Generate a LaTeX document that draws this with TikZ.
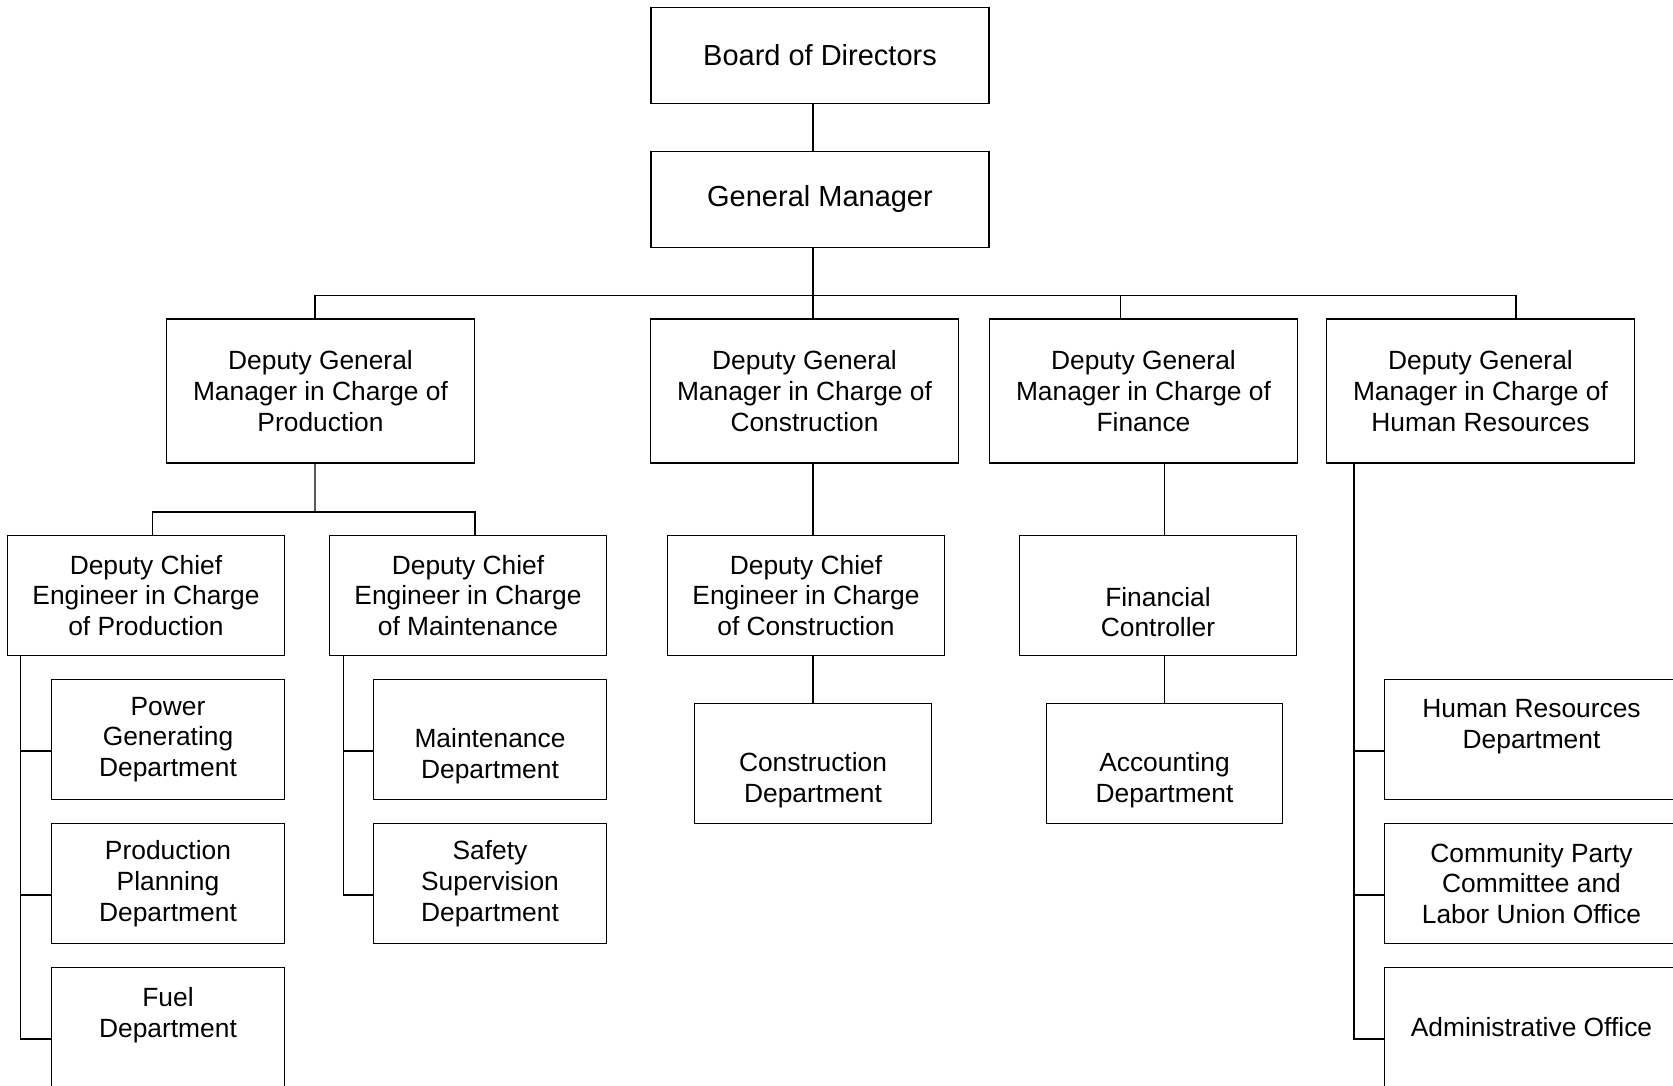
\documentclass[tikz,border=0pt]{standalone}
\usepackage{fontspec}
\setmainfont{Liberation Sans}
\usetikzlibrary{positioning}

\begin{document}
\begin{tikzpicture}[line width=0.8pt,
  box/.style={draw,align=center,inner sep=0pt,font=\fontsize{15}{17.5}\selectfont},
  top/.style={box,minimum width=6.76cm,minimum height=1.92cm,font=\fontsize{16.5}{19}\selectfont},
  dgm/.style={box,minimum width=6.17cm,minimum height=2.88cm},
  sub/.style={box,minimum width=5.55cm,minimum height=2.39cm},
  dept/.style={box,minimum width=4.67cm,minimum height=2.39cm}]
\useasboundingbox (0,0) rectangle (33.46,-21.72);
\node[top] (bod) at (16.40,-1.11) {Board of Directors};
\node[top] (gm) at (16.40,-3.99) {General Manager};
\coordinate (bus) at (16.26,-5.91);
\node[dgm] (dgp) at (6.41,-7.82) {Deputy General\\Manager in Charge of\\Production};
\node[dgm] (dgc) at (16.09,-7.82) {Deputy General\\Manager in Charge of\\Construction};
\node[dgm] (dgf) at (22.87,-7.82) {Deputy General\\Manager in Charge of\\Finance};
\node[dgm] (dgh) at (29.61,-7.82) {Deputy General\\Manager in Charge of\\Human Resources};
\draw (bod.south -| bus) -- (gm.north -| bus);
\draw (gm.south -| bus) -- (dgc.north -| bus);
\draw ([xshift=-0.11cm]dgp.north) |- (bus) -| ([xshift=0.71cm]dgh.north);
\draw ([xshift=-0.46cm]dgf.north) |- (bus);
% production
\coordinate (pbus) at (6.30,-10.24);
\node[sub] (dcp) at (2.92,-11.91) {Deputy Chief\\Engineer in Charge\\of Production};
\node[sub] (dcm) at (9.36,-11.91) {Deputy Chief\\Engineer in Charge\\of Maintenance};
\draw ([xshift=-0.11cm]dgp.south) -- (pbus);
\draw ([xshift=0.13cm]dcp.north) |- (pbus) -| ([xshift=0.14cm]dcm.north);
\node[dept] (pgd) at (3.36,-14.79) {Power\\Generating\\Department};
\node[dept] (ppd) at (3.36,-17.67) {Production\\Planning\\Department};
\node[dept] (fud) at (3.36,-20.55) {Fuel\\Department\\~};
\foreach \n in {pgd,ppd,fud}
  \draw ([xshift=0.28cm]dcp.south west) |- ([yshift=-0.23cm]\n.west);
\node[dept] (md) at (9.80,-14.79) {\strut\\Maintenance\\Department};
\node[dept] (ssd) at (9.80,-17.67) {Safety\\Supervision\\Department};
\foreach \n in {md,ssd}
  \draw ([xshift=0.30cm]dcm.south west) |- ([yshift=-0.23cm]\n.west);
% construction
\node[sub] (dcc) at (16.12,-11.91) {Deputy Chief\\Engineer in Charge\\of Construction};
\node[dept,minimum width=4.74cm,minimum height=2.41cm] (cd) at (16.26,-15.27) {\strut\\Construction\\Department};
\draw (dgc.south -| bus) -- (dcc.north -| bus);
\draw (dcc.south -| bus) -- (cd.north);
% finance
\node[sub] (fc) at (23.16,-11.91) {\strut\\Financial\\Controller};
\node[dept,minimum width=4.72cm,minimum height=2.41cm] (ad) at (23.29,-15.27) {\strut\\Accounting\\Department};
\draw (dgf.south -| ad.north) -- (fc.north -| ad.north);
\draw (fc.south -| ad.north) -- (ad.north);
% human resources
\node[dept,minimum width=5.87cm] (hrd) at (30.63,-14.79) {Human Resources\\Department\\~};
\node[dept,minimum width=5.87cm] (cpc) at (30.63,-17.67) {Community Party\\Committee and\\Labor Union Office};
\node[dept,minimum width=5.87cm] (aof) at (30.63,-20.55) {Administrative Office};
\foreach \n in {hrd,cpc,aof}
  \draw ([xshift=0.57cm]dgh.south west) |- ([yshift=-0.23cm]\n.west);
\end{tikzpicture}
\end{document}
